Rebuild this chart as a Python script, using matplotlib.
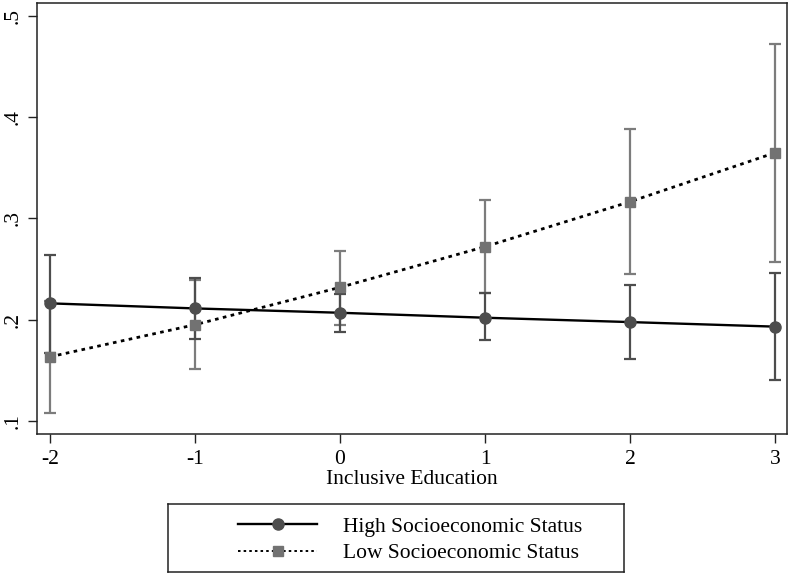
import matplotlib.pyplot as plt
from matplotlib.lines import Line2D
import numpy as np

# Datos
educ = [-2, -1, 0, 1, 2, 3]

alto = [0.216, 0.211, 0.2067, 0.2018, 0.1975, 0.193]
alto_lo = [0.167, 0.181, 0.188, 0.1795, 0.161, 0.1405]
alto_hi = [0.264, 0.2407, 0.2257, 0.226, 0.234, 0.246]

bajo = [0.1632, 0.1949, 0.2318, 0.272, 0.3164, 0.3648]
bajo_lo = [0.1076, 0.151, 0.195, 0.226, 0.2447, 0.2568]
bajo_hi = [0.218, 0.2395, 0.268, 0.318, 0.3885, 0.4726]

yticks = [0.1, 0.2, 0.3, 0.4, 0.5]
ytick_labels = ['.1', '.2', '.3', '.4', '.5']

plt.rcParams['font.family'] = ['Liberation Serif', 'DejaVu Serif']

W, H = 791, 578
fig = plt.figure(figsize=(W / 100, H / 100), dpi=100)
fig.patch.set_facecolor('white')
ax = fig.add_axes([37 / W, (H - 434) / H, 750 / W, 431 / H])

c_alto = '#4d4d4d'
c_bajo = '#727272'
c_bajo_err = '#7c7c7c'
fs = 15.5

# Intervalos de confianza
ax.errorbar(educ, bajo,
            yerr=[np.array(bajo) - np.array(bajo_lo), np.array(bajo_hi) - np.array(bajo)],
            fmt='none', ecolor=c_bajo_err, elinewidth=1.6, capsize=4, capthick=1.6, zorder=2)
ax.errorbar(educ, alto,
            yerr=[np.array(alto) - np.array(alto_lo), np.array(alto_hi) - np.array(alto)],
            fmt='none', ecolor=c_alto, elinewidth=1.6, capsize=4, capthick=1.6, zorder=2)

# Lineas
ax.plot(educ, bajo, color='black', linestyle=(0, (1.3, 1.6)), linewidth=2.0,
        marker='s', markersize=7.5, markerfacecolor=c_bajo, markeredgecolor=c_bajo, zorder=3)
ax.plot(educ, alto, color='black', linestyle='-', linewidth=1.7,
        marker='o', markersize=8, markerfacecolor=c_alto, markeredgecolor=c_alto, zorder=4)

ax.set_xlim(-2.09, 3.083)
ax.set_ylim(0.0869, 0.5128)
ax.set_xticks(educ)
ax.set_xticklabels([str(v) for v in educ])
ax.set_yticks(yticks)
ax.set_yticklabels(ytick_labels, rotation=90, va='center')
ax.tick_params(axis='both', length=6.5, width=1, labelsize=fs, color='#222222', pad=4)
ax.tick_params(axis='x', pad=5)
for s in ax.spines.values():
    s.set_linewidth(1.1)
    s.set_color('#222222')

ax.set_xlabel('Inclusive Education', fontsize=fs, labelpad=1)

# Leyenda en caja aparte
lax = fig.add_axes([168 / W, (H - 572) / H, 456 / W, 68 / H])
lax.set_xticks([])
lax.set_yticks([])
for s in lax.spines.values():
    s.set_linewidth(1.1)
    s.set_color('#222222')
handles = [
    Line2D([], [], color='black', linestyle='-', linewidth=1.7, marker='o', markersize=8,
           markerfacecolor=c_alto, markeredgecolor=c_alto),
    Line2D([], [], color='black', linestyle=(0, (1.3, 1.6)), linewidth=1.4, marker='s', markersize=7.5,
           markerfacecolor=c_bajo, markeredgecolor=c_bajo),
]
lax.legend(handles, ['High Socioeconomic Status', 'Low Socioeconomic Status'],
           loc='center', bbox_to_anchor=(0.531, 0.47), frameon=False, fontsize=fs,
           handlelength=3.7, handletextpad=1.2, labelspacing=0.3, borderpad=0.2)

fig.savefig('out.png', dpi=100, facecolor='white')
